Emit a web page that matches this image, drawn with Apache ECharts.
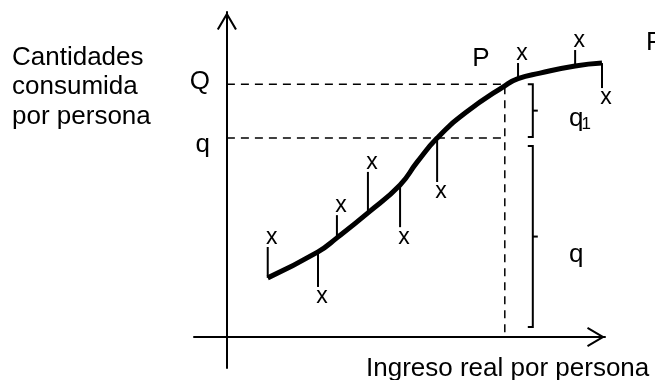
<!DOCTYPE html>
<html>
<head>
<meta charset="utf-8">
<script src="https://cdn.jsdelivr.net/npm/echarts@6/dist/echarts.min.js"></script>
<style>
  html, body { margin: 0; padding: 0; background: #fff; }
  #chart { width: 655px; height: 380px; }
</style>
</head>
<body>
<div id="chart"></div>
<script>
// fitted consumption curve: real income per person -> quantity consumed
const curveIncome = [10.8, 24.1, 29.1, 37.3, 45.8, 50.3, 55.6, 63.0, 73.5, 77.0, 82.8, 92.1, 99.2];
const curveQty = [18.2, 26.2, 30.5, 38.2, 46.8, 53.8, 61.2, 68.9, 77.3, 79.5, 81.2, 83.4, 84.3];

// observations ("x") and the fitted value each one hangs from
const obsIncome = [10.8, 24.1, 29.1, 37.3, 45.8, 55.6, 77.0, 92.1, 99.2];
const obsFitted = [18.2, 26.2, 30.5, 38.2, 46.8, 61.2, 79.5, 83.4, 84.3];
const obsQty = [27.7, 15.4, 37.5, 50.8, 33.8, 47.7, 84.3, 88.3, 76.6];

// reference levels read on the vertical axis, and income at point P
const levelNames = ["Q", "q"];
const levelQty = [77.8, 61.2];
const incomeP = 73.5;

const FONT = '"Liberation Sans", Arial, sans-serif';
const INK = "#000";

const chart = echarts.init(document.getElementById("chart"));

const arrowPath = "path://M10,0 L20,17 L18.2,18 L10,4 L1.8,18 L0,17 Z";
const axisCommon = {
  type: "value",
  axisLine: {
    show: true,
    onZero: true,
    symbol: ["none", arrowPath],
    symbolSize: [20, 18],
    symbolOffset: [0, -9],
    lineStyle: { color: INK, width: 2 }
  },
  axisTick: { show: false },
  axisLabel: { show: false },
  splitLine: { show: false }
};

const dashed = { color: INK, width: 1.5, type: [8, 6] };

const option = {
  animation: false,
  backgroundColor: "#fff",
  grid: { left: 194, right: 50, top: 12, bottom: 12.1 },
  xAxis: Object.assign({}, axisCommon, { min: -8.7, max: 100 }),
  yAxis: Object.assign({}, axisCommon, { min: -9.5, max: 100 }),
  graphic: [
    {
      type: "text",
      left: 12,
      top: 43,
      style: { text: "Cantidades\nconsumida\npor persona", font: "26px " + FONT, lineHeight: 29.5, fill: INK }
    },
    {
      type: "text",
      left: 366,
      top: 354,
      style: { text: "Ingreso real por persona", font: "26px " + FONT, lineHeight: 30, fill: INK }
    }
  ],
  series: [
    {
      // dashed guides from Q and q to point P
      type: "line",
      symbol: "none",
      silent: true,
      lineStyle: dashed,
      data: [[0, levelQty[0]], [incomeP, levelQty[0]], [incomeP, 0]],
      z: 1
    },
    {
      type: "line",
      symbol: "none",
      silent: true,
      lineStyle: dashed,
      data: [[0, levelQty[1]], [incomeP, levelQty[1]]],
      z: 1
    },
    {
      // sticks and "x" marks for observations
      type: "custom",
      silent: true,
      data: obsIncome.map((x, i) => [x, obsFitted[i], obsQty[i]]),
      renderItem: (params, api) => {
        const p0 = api.coord([api.value(0), api.value(1)]);
        const p1 = api.coord([api.value(0), api.value(2)]);
        const up = api.value(2) > api.value(1);
        return {
          type: "group",
          children: [
            { type: "line", shape: { x1: p0[0], y1: p0[1], x2: p1[0], y2: p1[1] }, style: { stroke: INK, lineWidth: 2 } },
            {
              type: "text",
              style: {
                text: "x", x: p1[0] + 4, y: p1[1] + (up ? -9 : 10),
                align: "center", verticalAlign: "middle", font: "23px " + FONT, fill: INK
              }
            }
          ]
        };
      },
      z: 2
    },
    {
      type: "line",
      symbol: "none",
      smooth: 0.5,
      silent: true,
      lineStyle: { color: INK, width: 5 },
      data: curveIncome.map((x, i) => [x, curveQty[i]]),
      z: 3
    },
    {
      // Q / q labels on the vertical axis
      type: "custom",
      silent: true,
      data: levelQty.map((v) => [0, v]),
      renderItem: (params, api) => {
        const p = api.coord([api.value(0), api.value(1)]);
        const name = levelNames[params.dataIndex];
        return {
          type: "text",
          style: {
            text: name, x: p[0] - 17, y: p[1] + (name === "Q" ? -2 : 7),
            align: "right", verticalAlign: "middle", font: "26px " + FONT, fill: INK
          }
        };
      },
      z: 4
    },
    {
      // braces measuring q1 (Q - q) and q, plus the P labels
      type: "custom",
      silent: true,
      data: [[incomeP, levelQty[0]]],
      renderItem: (params, api) => {
        const pP = api.coord([incomeP, levelQty[0]]);
        const pq = api.coord([incomeP, levelQty[1]]);
        const p0 = api.coord([incomeP, 0]);
        const end = api.coord([curveIncome[curveIncome.length - 1], curveQty[curveQty.length - 1]]);
        const bx = pP[0] + 28;
        const brace = (top, bot) => {
          const mid = (top + bot) / 2;
          return [
            { type: "polyline", shape: { points: [[bx - 5, top], [bx, top], [bx, bot], [bx - 5, bot]] }, style: { stroke: INK, lineWidth: 2, fill: null } },
            { type: "line", shape: { x1: bx, y1: mid, x2: bx + 5, y2: mid }, style: { stroke: INK, lineWidth: 2 } }
          ];
        };
        const txt = (s, x, y, size, align) => ({
          type: "text",
          style: { text: s, x: x, y: y, align: align || "center", verticalAlign: "middle", font: size + "px " + FONT, fill: INK }
        });
        const upMid = (pP[1] + pq[1] - 1) / 2;
        const loTop = pq[1] + 8, loBot = p0[1] - 10;
        const loMid = (loTop + loBot) / 2;
        return {
          type: "group",
          children: []
            .concat(brace(pP[1], pq[1] - 1))
            .concat(brace(loTop, loBot))
            .concat([
              txt("q", bx + 43.5, upMid + 8.5, 26),
              txt("1", bx + 53.5, upMid + 13.5, 17),
              txt("q", bx + 43.5, loMid + 18, 26),
              txt("P", pP[0] - 24, pP[1] - 25.5, 26),
              txt("P", end[0] + 44, end[1] - 20.5, 26, "left")
            ])
        };
      },
      z: 4
    }
  ]
};

chart.setOption(option);
window.addEventListener("resize", () => chart.resize());
</script>
</body>
</html>
